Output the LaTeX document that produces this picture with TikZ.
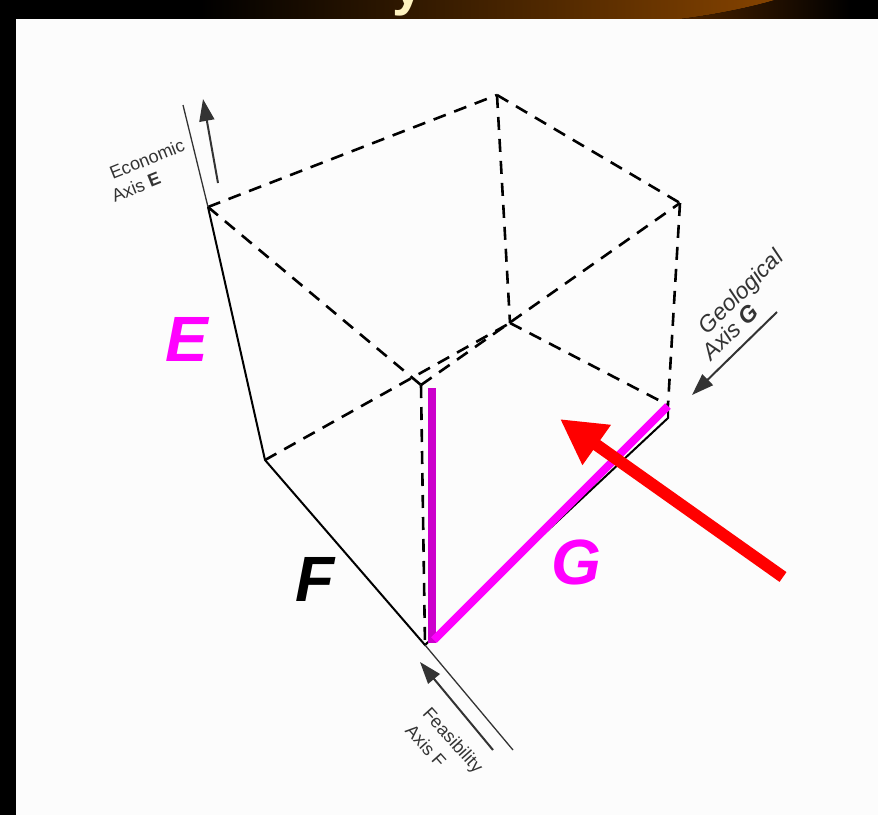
\documentclass[tikz,border=0pt]{standalone}
\usepackage{fontspec}
\setmainfont{Liberation Sans}
\usetikzlibrary{arrows.meta}
\definecolor{mag}{HTML}{FF00FF}
\definecolor{magd}{HTML}{CC00CC}
\definecolor{axgrey}{HTML}{333333}
\definecolor{brownbar}{HTML}{854300}
\definecolor{darkbrown}{HTML}{4A2200}
\definecolor{cream}{HTML}{FFF3C0}
\definecolor{panel}{HTML}{FCFCFC}
\begin{document}
\begin{tikzpicture}[x=1pt,y=-1pt,
  edge/.style={line width=2pt,black},
  hidden/.style={line width=2.6pt,black,dash pattern=on 13pt off 9pt},
  axisarrow/.style={line width=2pt,axgrey,-{Triangle[length=22pt,width=15pt]}},
  axisline/.style={line width=1.3pt,axgrey},
  axistext/.style={axgrey,font=\fontsize{18}{20}\selectfont,inner sep=0pt},
  geotext/.style={axgrey,font=\fontsize{23}{25}\selectfont\itshape,inner sep=0pt},
  biglabel/.style={font=\fontsize{64}{64}\selectfont\bfseries\itshape,inner sep=0pt}
]
\useasboundingbox (0,0) rectangle (878,815);
\fill[black] (0,0) rectangle (878,815);
% top bar
\shade[left color=black,right color=brownbar] (200,0) -- (775,0) .. controls (755,6) and (720,14) .. (680,19) -- (200,19) -- cycle;
\shade[left color=darkbrown,right color=black] (680,19) .. controls (720,14) and (755,6) .. (775,0) -- (850,0) -- (850,19) -- cycle;
\begin{scope}
  \clip (380,0) rectangle (440,19);
  \node[anchor=base,cream,font=\fontsize{56}{56}\selectfont\bfseries,inner sep=0pt] (ttl) at (408,4) {y};
\end{scope}
% panel
\fill[panel] (16,19) rectangle (878,815);

% vertices
\coordinate (TL) at (208,207);
\coordinate (A) at (265,460);
\coordinate (O) at (425,645);
\coordinate (B) at (668,405);
\coordinate (Bs) at (668,418);
\coordinate (C) at (510,323);
\coordinate (TB) at (497,95);
\coordinate (TR) at (680,203);
\coordinate (FT) at (421,385);

% hidden edges
\draw[hidden] (TL) -- (TB);
\draw[hidden] (TB) -- (TR);
\draw[hidden] (TR) -- (B);
\draw[hidden] (TB) -- (C);
\draw[hidden] (TL) -- (FT);
\draw[hidden] (FT) -- (O);
\draw[hidden] (FT) -- (TR);
\draw[hidden] (A) -- (C);
\draw[hidden] (C) -- (B);

% solid edges
\draw[edge] (TL) -- (A) -- (O) -- (Bs) -- (B);

% magenta
\coordinate (M1) at (432,388);
\coordinate (M2) at (432,643);
\coordinate (M3) at (434,640);
\coordinate (M4) at (668,406);
\draw[magd,line width=8pt] (M1) -- (M2);
\draw[mag,line width=8pt] (M3) -- (M4);

% axis annotations
\coordinate (eL) at (183,105);
\coordinate (eA1) at (218,183);
\coordinate (eA2) at (203,99);
\draw[axisline] (eL) -- (TL);
\draw[axisarrow] (eA1) -- (eA2);
\coordinate (gA1) at (777,312);
\coordinate (gA2) at (692,395);
\draw[axisarrow] (gA1) -- (gA2);
\coordinate (fL) at (513,750);
\coordinate (fA1) at (493,750);
\coordinate (fA2) at (420,662);
\draw[axisline] (O) -- (fL);
\draw[axisarrow] (fA1) -- (fA2);

\node[axistext,rotate=22] (econ) at (147,159) {Economic};
\node[axistext,rotate=22] (axe) at (136,187) {Axis \textbf{E}};
\node[geotext,rotate=45] (geo) at (742,293) {Geological};
\node[geotext,rotate=45] (axg) at (730,332) {Axis \textbf{G}};
\node[axistext,rotate=-48] (fea) at (452,741) {Feasibility};
\node[axistext,rotate=-48] (axf) at (426,746) {Axis F};

% big labels
\node[biglabel,mag] (lE) at (187,339) {E};
\node[biglabel,black] (lF) at (315,579) {F};
\node[biglabel,mag] (lG) at (576,562) {G};

% red arrow
\coordinate (rT) at (783,577);
\coordinate (rH) at (560,419);
\draw[red,line width=12pt,-{Triangle[length=45pt,width=46pt]}] (rT) -- (rH);
\end{tikzpicture}
\end{document}
